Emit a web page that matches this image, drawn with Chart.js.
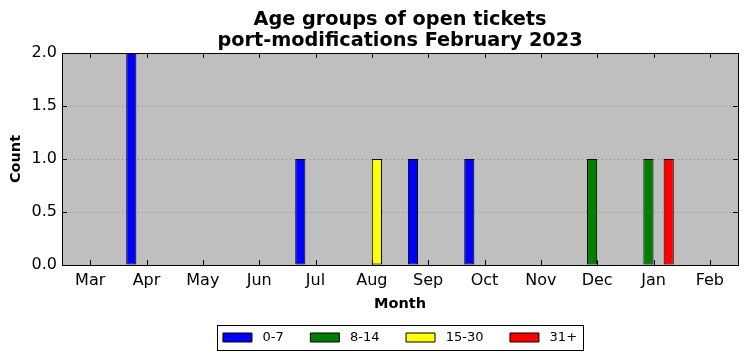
<!DOCTYPE html>
<html>
<head>
<meta charset="utf-8">
<script src="https://cdn.jsdelivr.net/npm/chart.js@4/dist/chart.umd.min.js"></script>
<style>
  html, body { margin: 0; padding: 0; background: #ffffff; }
  #wrap { width: 747px; height: 361px; }
</style>
</head>
<body>
<div id="wrap"><canvas id="ageChart" width="747" height="361"></canvas></div>
<script>
//months on the x axis
var months = ['Mar', 'Apr', 'May', 'Jun', 'Jul', 'Aug', 'Sep', 'Oct', 'Nov', 'Dec', 'Jan', 'Feb'];

//open tickets per age group
var age0to7   = [0, 2, 0, 0, 1, 0, 1, 1, 0, 0, 0, 0];
var age8to14  = [0, 0, 0, 0, 0, 0, 0, 0, 0, 1, 1, 0];
var age15to30 = [0, 0, 0, 0, 0, 1, 0, 0, 0, 0, 0, 0];
var age31plus = [0, 0, 0, 0, 0, 0, 0, 0, 0, 0, 1, 0];

var groupNames = ['0-7', '8-14', '15-30', '31+'];
var yTicks = [0, 0.5, 1.0, 1.5, 2.0];

var titleLines = ['Age groups of open tickets', 'port-modifications February 2023'];

//silver plot background, black frame, inward ticks, legend box
var framePlugin = {
  id: 'frame',
  afterLayout: function(chart) {
    //title and legend sit centred over the plot, not the canvas
    var a = chart.chartArea;
    var tb = chart.titleBlock;
    tb.left = a.left; tb.right = a.right; tb.width = a.right - a.left;
    var lg = chart.legend;
    var dx = ((a.left + a.right) - (lg.left + lg.right)) / 2;
    lg.left = a.left; lg.right = a.right; lg.width = a.right - a.left;
    lg.legendHitBoxes.forEach(function(hb) { hb.left += dx; });
  },
  beforeDraw: function(chart) {
    var a = chart.chartArea;
    var ctx = chart.ctx;
    ctx.save();
    ctx.fillStyle = '#bfbfbf';
    ctx.fillRect(a.left, a.top, a.right - a.left, a.bottom - a.top);
    ctx.restore();
  },
  afterDraw: function(chart) {
    var a = chart.chartArea;
    var ctx = chart.ctx;
    var xs = chart.scales.x;
    var ys = chart.scales.y;
    var len = 5;
    ctx.save();
    ctx.strokeStyle = '#000000';
    ctx.lineWidth = 1;
    ctx.beginPath();
    for (var i = 0; i < xs.ticks.length; i++) {
      var px = Math.round(xs.getPixelForTick(i)) + 0.5;
      ctx.moveTo(px, a.bottom);
      ctx.lineTo(px, a.bottom - len);
      ctx.moveTo(px, a.top);
      ctx.lineTo(px, a.top + len);
    }
    for (var j = 0; j < ys.ticks.length; j++) {
      var py = Math.round(ys.getPixelForTick(j)) + 0.5;
      ctx.moveTo(a.left, py);
      ctx.lineTo(a.left + len, py);
      ctx.moveTo(a.right, py);
      ctx.lineTo(a.right - len, py);
    }
    ctx.stroke();
    ctx.strokeRect(Math.round(a.left) + 0.5, Math.round(a.top) + 0.5,
      Math.round(a.right - a.left), Math.round(a.bottom - a.top));

    var boxes = chart.legend.legendHitBoxes;
    if (boxes && boxes.length) {
      var first = boxes[0];
      var last = boxes[boxes.length - 1];
      var l = Math.round(first.left - 6) + 0.5;
      var r = Math.round(last.left + last.width + 6) + 0.5;
      var t = Math.round(first.top - 6) + 0.5;
      var b = Math.round(first.top + first.height + 6) + 0.5;
      ctx.strokeRect(l, t, r - l, b - t);
    }
    ctx.restore();
  }
};

function makeSet(name, values, color) {
  return {
    label: name,
    data: values,
    backgroundColor: color,
    borderColor: '#000000',
    borderWidth: 1,
    borderSkipped: false,
    categoryPercentage: 0.72,
    barPercentage: 1.0
  };
}

var ctx = document.getElementById('ageChart');
var ageChart = new Chart(ctx, {
  type: 'bar',
  data: {
    labels: months,
    datasets: [
      makeSet(groupNames[0], age0to7, '#0000ff'),
      makeSet(groupNames[1], age8to14, '#008000'),
      makeSet(groupNames[2], age15to30, '#ffff00'),
      makeSet(groupNames[3], age31plus, '#ff0000')
    ]
  },
  plugins: [framePlugin],
  options: {
    responsive: false,
    animation: false,
    devicePixelRatio: 1,
    layout: { padding: { top: 9, right: 9, bottom: 7, left: 0 } },
    plugins: {
      title: {
        display: true,
        text: titleLines,
        color: '#000000',
        font: { family: 'DejaVu Sans', size: 19.3, weight: 'bold', lineHeight: '21px' },
        padding: { top: 0, bottom: 2 }
      },
      legend: {
        position: 'bottom',
        labels: {
          color: '#000000',
          font: { family: 'DejaVu Sans', size: 13 },
          boxWidth: 29,
          boxHeight: 9,
          padding: 10,
          generateLabels: function(chart) {
            var items = Chart.defaults.plugins.legend.labels.generateLabels(chart);
            items.forEach(function(it, k) {
              it.text = ' ' + it.text + (k < items.length - 1 ? '    ' : '');
            });
            return items;
          }
        }
      },
      tooltip: { enabled: false }
    },
    scales: {
      x: {
        grid: { display: false, drawTicks: false },
        border: { display: false },
        ticks: {
          color: '#000000',
          font: { family: 'DejaVu Sans', size: 16 },
          padding: 6,
          maxRotation: 0,
          autoSkip: false
        },
        title: {
          display: true,
          text: 'Month',
          color: '#000000',
          font: { family: 'DejaVu Sans', size: 14.5, weight: 'bold' },
          padding: { top: 0, bottom: 8 }
        },
        afterFit: function(scale) { scale.height = 56; }
      },
      y: {
        min: 0,
        max: 2,
        grid: { color: '#8a8a8a', lineWidth: 1, drawTicks: false },
        border: { display: false, dash: [1, 3] },
        ticks: {
          color: '#000000',
          font: { family: 'DejaVu Sans', size: 16 },
          padding: 5,
          stepSize: 0.5,
          callback: function(v) { return v.toFixed(1); }
        },
        afterBuildTicks: function(scale) {
          scale.ticks = yTicks.map(function(v) { return { value: v }; });
        },
        title: {
          display: true,
          text: 'Count',
          color: '#000000',
          font: { family: 'DejaVu Sans', size: 14.5, weight: 'bold' },
          padding: { top: 8, bottom: 0 }
        },
        afterFit: function(scale) { scale.width = 62; }
      }
    }
  }
});
</script>
</body>
</html>
